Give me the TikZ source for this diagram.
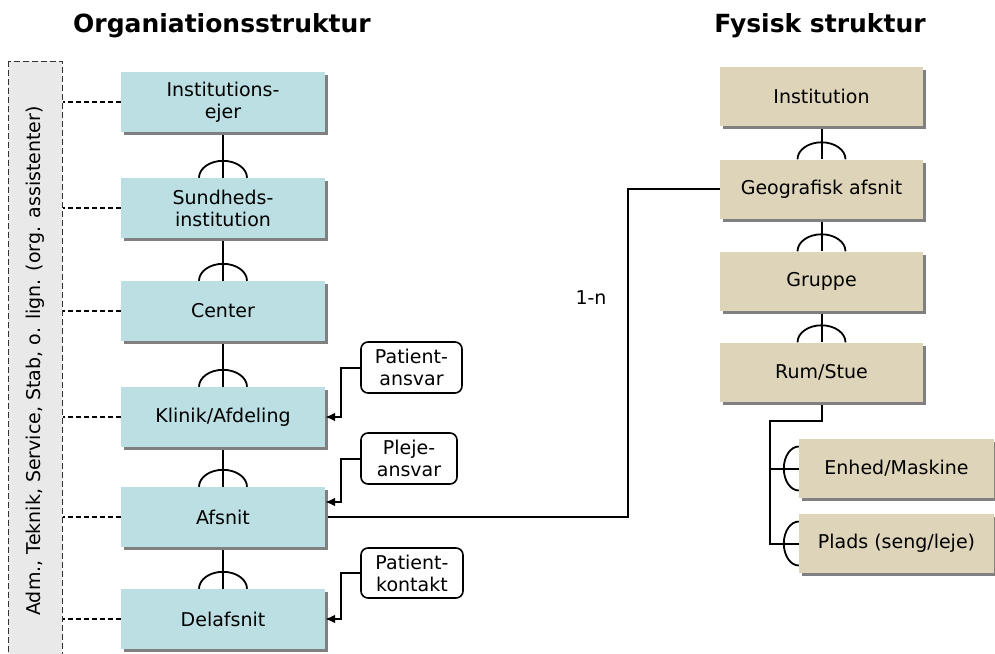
\documentclass[tikz,border=0pt]{standalone}
\usepackage{fontspec}
\setmainfont{DejaVu Sans}
\usetikzlibrary{shadows,arrows.meta,calc}
\definecolor{orgfill}{RGB}{187,223,227}
\definecolor{fysfill}{RGB}{221,212,185}
\definecolor{admfill}{RGB}{233,233,233}
\definecolor{shade}{RGB}{128,128,128}
\pgfdeclarelayer{bg}
\pgfsetlayers{bg,main}
\begin{document}
\begin{tikzpicture}[x=1pt,y=-1pt,
  txt/.style={font=\fontsize{19}{22}\selectfont, align=center},
  box/.style={txt, inner sep=0pt,
    drop shadow={shadow xshift=3pt, shadow yshift=-3pt, fill=shade, opacity=1}},
  orgbox/.style={box, fill=orgfill, minimum width=204pt, minimum height=60pt},
  fysbox/.style={box, fill=fysfill, minimum width=203pt, minimum height=59pt},
  subbox/.style={box, fill=fysfill, minimum width=195pt, minimum height=59pt},
  callout/.style={txt, draw, line width=1.6pt, rounded corners=7pt, fill=white, inner sep=0pt},
  admbox/.style={txt, draw=black!80, line width=1pt, dash pattern=on 6pt off 3pt, fill=admfill, inner sep=0pt},
  link/.style={line width=2pt},
  dashlink/.style={line width=2pt, dash pattern=on 5pt off 3pt},
  crow/.style={line width=1.8pt},
  pointer/.style={line width=2pt, -{Latex[length=10pt,width=9pt]}},
  heading/.style={font=\fontsize{25}{30}\selectfont\bfseries}]
\useasboundingbox (0,0) rectangle (995,653);

% headings
\node[heading] (th1) at (222,26) {Organiationsstruktur};
\node[heading] (th2) at (820,26) {Fysisk struktur};

% staff column
\node[admbox, rotate=90, minimum width=600pt, minimum height=54pt] (adm) at (35,361)
  {Adm., Teknik, Service, Stab, o. lign. (org. assistenter)};

% organisational hierarchy
\node[orgbox] (o1) at (223,102) {Institutions-\\ejer};
\node[orgbox] (o2) at (223,208) {Sundheds-\\institution};
\node[orgbox] (o3) at (223,311) {Center};
\node[orgbox] (o4) at (223,417) {Klinik/Afdeling};
\node[orgbox] (o5) at (223,517) {Afsnit};
\node[orgbox] (o6) at (223,619) {Delafsnit};

% physical hierarchy
\node[fysbox] (f1) at (821.5,96.5) {Institution};
\node[fysbox] (f2) at (821.5,189) {Geografisk afsnit};
\node[fysbox] (f3) at (821.5,281) {Gruppe};
\node[fysbox] (f4) at (821.5,372) {Rum/Stue};
\node[subbox] (f5) at (896.5,468.5) {Enhed/Maskine};
\node[subbox] (f6) at (896.5,543.5) {Plads (seng/leje)};

% responsibility callouts
\node[callout, minimum width=101pt, minimum height=51pt] (c1) at (411.5,367.5) {Patient-\\ansvar};
\node[callout, minimum width=96pt, minimum height=51pt] (c2) at (409,458.5) {Pleje-\\ansvar};
\node[callout, minimum width=102pt, minimum height=50pt] (c3) at (412,573) {Patient-\\kontakt};

\node[txt] (card) at (591,298) {1-n};

\coordinate (jx) at (628,0);
\coordinate (trunk) at (770,421);

\begin{pgfonlayer}{bg}
  % parent-child links with crow arcs
  \foreach \a/\b in {o1/o2,o2/o3,o3/o4,o4/o5,o5/o6,f1/f2,f2/f3,f3/f4}{
    \draw[link] (\a.south) -- (\b.north);
    \draw[crow] ($(\b.north)+(-24,0)$) arc[start angle=180, end angle=0, x radius=24pt, y radius=17pt];
  }
  % room to units
  \draw[link] (f4.south) -- (f4.south |- trunk) -- (trunk) |- (f6.west);
  \draw[link] (trunk |- f5.west) -- (f5.west);
  \foreach \b in {f5,f6}{
    \draw[crow] ($(\b.west)+(0,-22)$) arc[start angle=90, end angle=270, x radius=15pt, y radius=22pt];
  }
  % staff links
  \foreach \b in {o1,o2,o3,o4,o5,o6}{
    \draw[dashlink] (\b.west) -- (\b.west -| adm.south);
  }
  % organisation to geography
  \draw[link] (o5.east) -- (o5.east -| jx) |- (f2.west);
\end{pgfonlayer}

% callout pointers
\draw[pointer] (c1.west) -- ++(-19,0) |- (o4.east);
\draw[pointer] (c2.west) -- ++(-19,0) |- ($(o5.east)+(0,-15)$);
\draw[pointer] (c3.west) -- ++(-19,0) |- (o6.east);
\end{tikzpicture}
\end{document}
